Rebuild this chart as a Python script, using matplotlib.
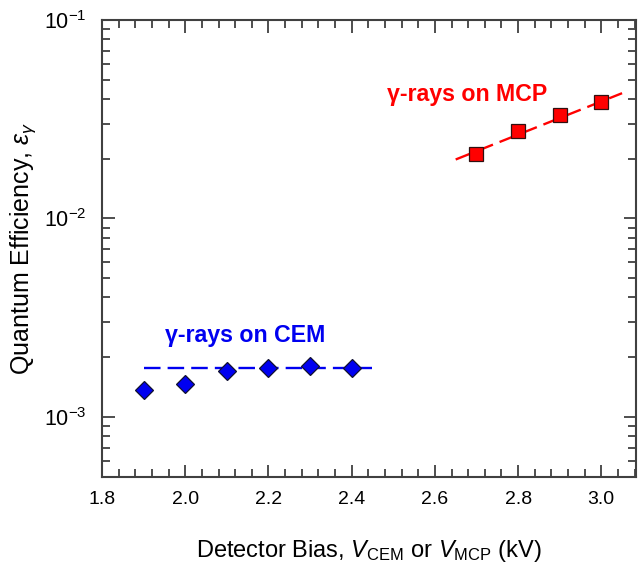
import numpy as np
import matplotlib
matplotlib.use("Agg")
import matplotlib.pyplot as plt
from matplotlib.ticker import MultipleLocator, LogLocator, NullFormatter

plt.rcParams['font.family'] = ['Liberation Sans', 'DejaVu Sans']
plt.rcParams['mathtext.fontset'] = 'custom'
plt.rcParams['mathtext.rm'] = 'Liberation Sans'
plt.rcParams['mathtext.it'] = 'Liberation Sans:italic'
plt.rcParams['mathtext.bf'] = 'Liberation Sans:bold'

# data
cem_bias = [1.9, 2.0, 2.1, 2.2, 2.3, 2.4]
cem_eff = [1.375e-3, 1.46e-3, 1.70e-3, 1.76e-3, 1.80e-3, 1.76e-3]
cem_fit_x = [1.9, 2.45]
cem_fit_y = [1.76e-3, 1.76e-3]

mcp_bias = [2.7, 2.8, 2.9, 3.0]
mcp_eff = [2.10e-2, 2.76e-2, 3.32e-2, 3.84e-2]
mcp_fit_x = [2.65, 3.05]
mcp_fit_y = [1.98e-2, 4.27e-2]

blue = '#0000f0'
red = '#ff0000'
axcol = '#404040'

fig = plt.figure(figsize=(6.42, 5.65), dpi=100)
ax = fig.add_axes([0.159, 0.156, 0.832, 0.809])

# fit lines
ax.plot(cem_fit_x, cem_fit_y, color=blue, lw=1.7, dashes=(7, 3), zorder=2)
ax.plot(mcp_fit_x, mcp_fit_y, color=red, lw=1.7, dashes=(7, 3), zorder=2)

# points
ax.plot(cem_bias, cem_eff, ls='none', marker='D', ms=8.8, mfc=blue,
        mec='#101030', mew=0.9, zorder=3)
ax.plot(mcp_bias, mcp_eff, ls='none', marker='s', ms=9.8, mfc=red,
        mec='#301010', mew=0.9, zorder=3)

ax.text(1.951, 2.56e-3, 'γ-rays on CEM', color=blue, fontsize=16.7,
        fontweight='bold', ha='left', va='center')
ax.text(2.484, 4.21e-2, 'γ-rays on MCP', color=red, fontsize=16.7,
        fontweight='bold', ha='left', va='center')

ax.set_yscale('log')
ax.set_xlim(1.8, 3.084)
ax.set_ylim(5e-4, 1e-1)
ax.xaxis.set_major_locator(MultipleLocator(0.2))
ax.xaxis.set_minor_locator(MultipleLocator(0.04))
ax.xaxis.set_major_formatter(matplotlib.ticker.FormatStrFormatter('%.1f'))
ax.yaxis.set_major_locator(LogLocator(base=10, numticks=10))
ax.yaxis.set_minor_locator(LogLocator(base=10, subs=np.arange(2, 10), numticks=10))
ax.yaxis.set_minor_formatter(NullFormatter())

ax.tick_params(which='both', direction='in', top=True, right=True,
               color=axcol, width=1.3)
ax.tick_params(axis='x', labelsize=14, pad=10)
ax.tick_params(axis='y', labelsize=15.5, pad=11)
ax.tick_params(which='major', length=9)
ax.tick_params(which='minor', length=5.5)
for s in ax.spines.values():
    s.set_color(axcol)
    s.set_linewidth(1.5)

ax.set_xlabel(r'Detector Bias, $V_{\rm CEM}$ or $V_{\rm MCP}$ (kV)', fontsize=17)
ax.set_ylabel(r'Quantum Efficiency, $\varepsilon_\gamma$', fontsize=18)
ax.xaxis.set_label_coords(0.5, -0.134)
ax.yaxis.set_label_coords(-0.12, 0.5)

fig.savefig('out.png', dpi=100)
